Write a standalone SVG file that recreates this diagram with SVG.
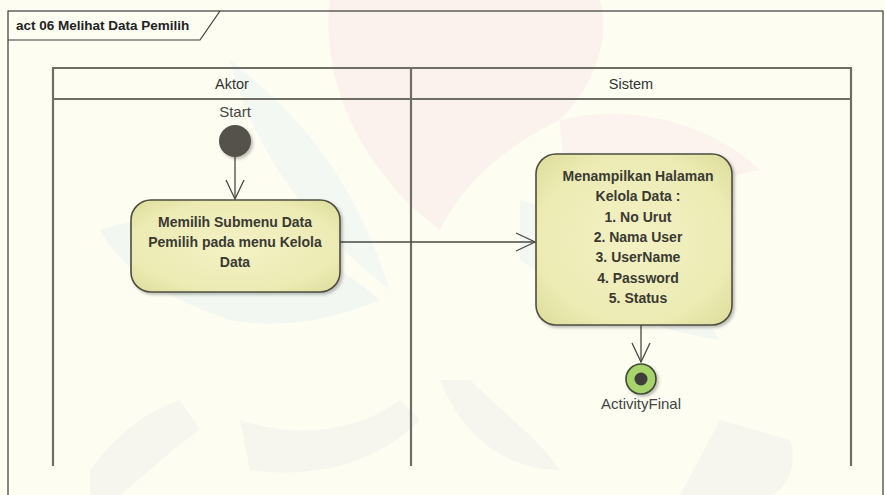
<svg xmlns="http://www.w3.org/2000/svg" width="885" height="495" viewBox="0 0 885 495">
  <defs>
    <style>
      .frame { fill: none; stroke: #3a3a3a; stroke-width: 1.2; }
      .lane { fill: none; stroke: #6e6e66; stroke-width: 2.2; }
      .hdr { font-family: "Liberation Sans", Arial, sans-serif; font-size: 14.5px; fill: #333; text-anchor: middle; }
      .title { font-family: "Liberation Sans", Arial, sans-serif; font-size: 13.5px; font-weight: bold; fill: #222; }
      .act { fill: url(#actFill); stroke: #4e4e40; stroke-width: 1.6; }
      .atext { font-family: "Liberation Sans", Arial, sans-serif; font-size: 14px; font-weight: bold; fill: #3a3a32; text-anchor: middle; }
      .lbl { font-family: "Liberation Sans", Arial, sans-serif; font-size: 15px; fill: #444; text-anchor: middle; }
      .flow { fill: none; stroke: #4a4a44; stroke-width: 1.3; }
      .wm { stroke: none; }
    </style>
    <radialGradient id="actFill" cx="50%" cy="50%" r="65%">
      <stop offset="0%" stop-color="#f4f1c4"/>
      <stop offset="75%" stop-color="#ecebb4"/>
      <stop offset="100%" stop-color="#dfe0a0"/>
    </radialGradient>
    <marker id="open" markerWidth="22" markerHeight="20" refX="20" refY="10" orient="auto" markerUnits="userSpaceOnUse">
      <path d="M1,1 L20,10 L1,19" fill="none" stroke="#4a4a44" stroke-width="1.3"/>
    </marker>
    <filter id="shadow" x="-10%" y="-10%" width="130%" height="130%">
      <feDropShadow dx="2" dy="2" stdDeviation="1.5" flood-color="#000" flood-opacity="0.25"/>
    </filter>
  </defs>

  <!-- page background -->
  <rect width="885" height="495" fill="#fdfdf2"/>

  <!-- faint background emblem -->
  <g id="emblem" opacity="0.4">
    <path class="wm" fill="#fbe3e8" d="M330,0 C320,80 360,170 440,230 C470,170 520,140 560,120 C600,80 610,30 600,0 Z"/>
    <path class="wm" fill="#fbe6ea" d="M560,120 C640,100 720,130 760,170 C700,180 640,220 600,260 C580,220 560,170 560,120 Z"/>
    <path class="wm" fill="#e4f1f1" d="M100,230 C180,200 300,230 380,300 C330,320 280,330 230,320 C170,300 120,270 100,230 Z"/>
    <path class="wm" fill="#e6f2f2" d="M230,60 C250,140 300,220 390,290 C360,200 320,130 230,60 Z"/>
    <path class="wm" fill="#e8eff0" d="M520,200 C600,220 680,280 720,340 C650,330 580,300 520,260 Z"/>
    <path class="wm" fill="#ececec" d="M240,420 C300,440 360,430 400,400 L420,420 C380,460 320,480 250,470 Z"/>
    <path class="wm" fill="#ececec" d="M440,380 C460,430 500,470 560,470 C540,440 500,410 470,380 Z"/>
    <path class="wm" fill="#ececec" d="M90,470 C120,430 150,410 180,400 L200,430 C170,450 140,480 120,495 L90,495 Z"/>
    <path class="wm" fill="#ececec" d="M680,495 L720,420 L790,440 C800,470 780,495 770,495 Z"/>
  </g>

  <!-- diagram frame with name tab -->
  <g id="frame">
    <rect class="frame" x="8" y="11" width="875" height="500"/>
    <path class="frame" d="M8,40 L200,40 L220,11"/>
    <text class="title" x="16" y="30">act 06 Melihat Data Pemilih</text>
  </g>

  <!-- swimlane partitions -->
  <g id="lanes">
    <path class="lane" d="M53,466 L53,68 L851,68 L851,466"/>
    <path class="lane" d="M53,99 L851,99"/>
    <path class="lane" d="M411,68 L411,466"/>
    <text class="hdr" x="232" y="89">Aktor</text>
    <text class="hdr" x="631" y="89">Sistem</text>
  </g>

  <!-- control flows -->
  <g id="connectors">
    <path class="flow" d="M235,157 L235,199" marker-end="url(#open)"/>
    <path class="flow" d="M340,242 L535,242" marker-end="url(#open)"/>
    <path class="flow" d="M641,325 L641,362" marker-end="url(#open)"/>
  </g>

  <!-- initial node -->
  <g id="start">
    <circle cx="235" cy="141" r="16" fill="#55514b" filter="url(#shadow)"/>
    <text class="lbl" x="235" y="117">Start</text>
  </g>

  <!-- action: choose submenu -->
  <g id="memilih-submenu">
    <rect class="act" x="131" y="200" width="209" height="92" rx="20" filter="url(#shadow)"/>
    <text class="atext" x="235" y="227">Memilih Submenu Data</text>
    <text class="atext" x="235" y="247">Pemilih pada menu Kelola</text>
    <text class="atext" x="235" y="267">Data</text>
  </g>

  <!-- action: show data page -->
  <g id="menampilkan-halaman">
    <rect class="act" x="536" y="154" width="196" height="171" rx="20" filter="url(#shadow)"/>
    <text class="atext" x="638" y="181">Menampilkan Halaman</text>
    <text class="atext" x="638" y="201">Kelola Data :</text>
    <text class="atext" x="638" y="222">1. No Urut</text>
    <text class="atext" x="638" y="242">2. Nama User</text>
    <text class="atext" x="638" y="262">3. UserName</text>
    <text class="atext" x="638" y="283">4. Password</text>
    <text class="atext" x="638" y="303">5. Status</text>
  </g>

  <!-- final node -->
  <g id="activity-final">
    <circle cx="641" cy="379" r="15" fill="#a6d46a" stroke="#3e4a33" stroke-width="1.6" filter="url(#shadow)"/>
    <circle cx="641" cy="379" r="6.5" fill="#3d3d3a"/>
    <text class="lbl" x="641" y="409">ActivityFinal</text>
  </g>
</svg>
